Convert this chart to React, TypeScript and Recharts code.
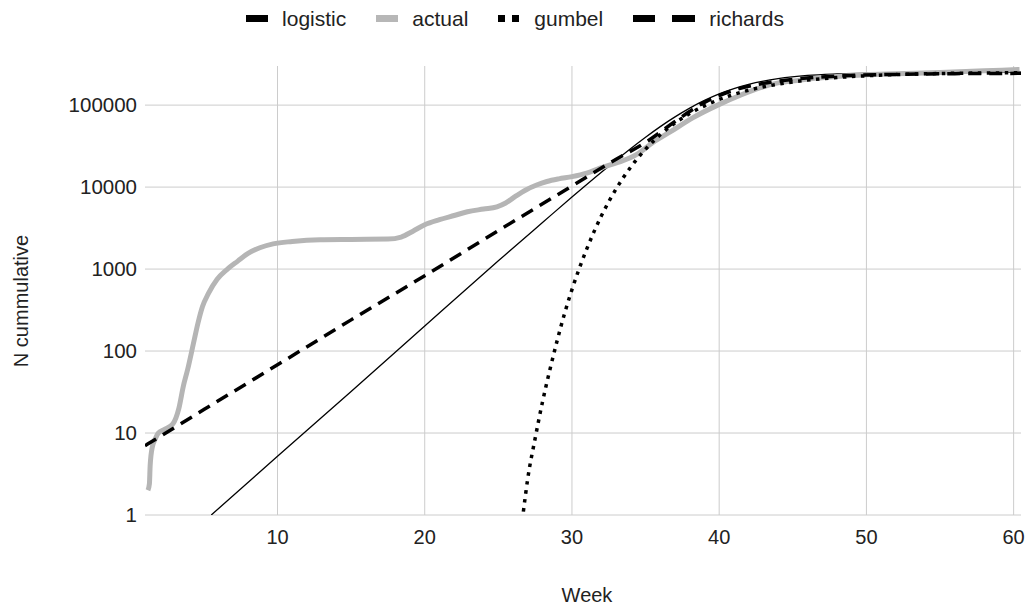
import React from 'react';
import { LineChart, Line, XAxis, YAxis, CartesianGrid } from 'recharts';

// week numbers and cumulative counts
const actualWeeks = [1.2, 1.3, 1.35, 1.5, 1.7, 1.9, 2.3, 2.9, 3.3, 3.6, 3.9, 4.3, 4.6, 4.9, 5.3, 5.9, 6.6, 7.3, 8.0, 8.8, 9.7, 11, 12.9, 15, 17.5, 18.4, 19.2, 20, 21, 22, 22.9, 24, 24.9, 25.5, 26.2, 26.9, 27.6, 28.3, 29.1, 30, 31, 31.9, 32.6, 33.3, 34.4, 35.5, 36.7, 38.2, 39.9, 41.4, 42.8, 44.1, 45.3, 46.5, 48, 50, 52, 55, 58, 60.4];
const actualValues = [2, 2.4, 4, 6.8, 8.5, 10, 11, 13, 20, 37, 60, 126, 220, 347, 500, 750, 1000, 1250, 1550, 1820, 2030, 2170, 2280, 2300, 2320, 2460, 2900, 3470, 4000, 4500, 5000, 5400, 5750, 6400, 7800, 9300, 10600, 11700, 12600, 13400, 14800, 17000, 18700, 20400, 25000, 35000, 47500, 70000, 100000, 131000, 163000, 188000, 199000, 212000, 224000, 235000, 241000, 250000, 262000, 272000];

const logisticWeeks = [5.5, 10, 15, 20, 25, 28, 30, 32, 34, 35, 36, 37, 38, 39, 40, 41, 42, 43, 44, 46, 48, 50, 55, 60.5];
const logisticValues = [1, 5.2, 32, 202, 1260, 3700, 7570, 15200, 29600, 40600, 54700, 71900, 92000, 114000, 137000, 159000, 179000, 196000, 210000, 230000, 240000, 246000, 250000, 251000];

const gumbelWeeks = [26.7, 27, 27.5, 28, 28.5, 29, 29.5, 30, 30.5, 31, 31.5, 32, 32.5, 33, 33.5, 34, 35, 36, 37, 38, 39, 40, 42, 44, 46, 48, 50, 54, 60.5];
const gumbelValues = [1.1, 2.8, 8.6, 24, 59, 135, 288, 562, 1020, 1750, 2860, 4460, 6640, 9500, 13150, 17600, 29000, 43500, 60400, 78900, 98000, 117000, 152000, 180000, 202000, 217000, 228000, 241000, 248000];

const richardsWeeks = [1, 5, 10, 15, 20, 25, 30, 33, 35, 37, 39, 41, 43, 45, 48, 52, 56, 60.5];
const richardsValues = [7, 19.3, 68, 240, 830, 2950, 10300, 21900, 35000, 63000, 108000, 152000, 184000, 206000, 226000, 237000, 242000, 244000];

const weekTicks = [10, 20, 30, 40, 50, 60];
const countTicks = [1, 10, 100, 1000, 10000, 100000];

const toRows = (weeks: number[], values: number[]) =>
    weeks.map((week, i) => ({ week, value: values[i] }));

const FONT = '"Liberation Sans", Arial, sans-serif';
const TEXT = '#222';

const LegendIcon = ({ kind }: { kind: string }) => {
    if (kind === 'gumbel') {
        return (
            <svg width={22} height={8}>
                <rect x={0} y={0} width={7} height={7} fill="#000" />
                <rect x={14} y={0} width={7} height={7} fill="#000" />
            </svg>
        );
    }
    if (kind === 'richards') {
        return (
            <svg width={62} height={8}>
                <rect x={0} y={0} width={22} height={7} fill="#000" />
                <rect x={39} y={0} width={23} height={7} fill="#000" />
            </svg>
        );
    }
    return (
        <svg width={22} height={8}>
            <rect x={0} y={0} width={22} height={7} fill={kind === 'actual' ? '#b7b7b7' : '#000'} />
        </svg>
    );
};

const legendItems = ['logistic', 'actual', 'gumbel', 'richards'];

export default function App() {
    return (
        <div style={{ position: 'absolute', left: 0, top: 0, width: 1030, height: 607, background: '#fff', fontFamily: FONT }}>
            {/* legend */}
            <div style={{ position: 'absolute', top: 7, left: 0, width: 1030, display: 'flex', justifyContent: 'center', alignItems: 'center', gap: 30, fontSize: 21, color: TEXT }}>
                {legendItems.map(name => (
                    <div key={name} style={{ display: 'flex', alignItems: 'center', gap: 14 }}>
                        <LegendIcon kind={name} />
                        <span>{name}</span>
                    </div>
                ))}
            </div>

            <LineChart width={1030} height={607} margin={{ top: 66, right: 9, bottom: 32, left: 0 }}>
                <CartesianGrid stroke="#cccccc" strokeWidth={1} horizontalValues={countTicks} verticalValues={weekTicks} />
                <XAxis
                    dataKey="week"
                    type="number"
                    domain={[1, 60.5]}
                    ticks={weekTicks}
                    allowDataOverflow
                    height={60}
                    axisLine={false}
                    tickLine={false}
                    tickMargin={9}
                    tick={{ fill: TEXT, fontSize: 20, fontFamily: FONT }}
                    label={() => (
                        <text x={587} y={595} textAnchor="middle" dominantBaseline="central" fill={TEXT} fontSize={20} fontFamily={FONT}>Week</text>
                    )}
                />
                <YAxis
                    scale="log"
                    domain={[1, 300000]}
                    ticks={countTicks}
                    allowDataOverflow
                    width={145}
                    axisLine={false}
                    tickLine={false}
                    tick={{ fill: TEXT, fontSize: 20.5, fontFamily: FONT }}
                    label={() => (
                        <text x={21} y={301} transform="rotate(-90 21 301)" textAnchor="middle" dominantBaseline="central" fill={TEXT} fontSize={20} fontFamily={FONT}>N cummulative</text>
                    )}
                />
                <Line data={toRows(logisticWeeks, logisticValues)} dataKey="value" type="monotone" stroke="#000" strokeWidth={1.3} dot={false} activeDot={false} isAnimationActive={false} />
                <Line data={toRows(actualWeeks, actualValues)} dataKey="value" type="monotone" stroke="#b5b5b5" strokeWidth={5} dot={false} activeDot={false} isAnimationActive={false} />
                <Line data={toRows(gumbelWeeks, gumbelValues)} dataKey="value" type="monotone" stroke="#000" strokeWidth={3.5} strokeDasharray="3.5 5.5" dot={false} activeDot={false} isAnimationActive={false} />
                <Line data={toRows(richardsWeeks, richardsValues)} dataKey="value" type="monotone" stroke="#000" strokeWidth={3.5} strokeDasharray="13 8" dot={false} activeDot={false} isAnimationActive={false} />
            </LineChart>
        </div>
    );
}
